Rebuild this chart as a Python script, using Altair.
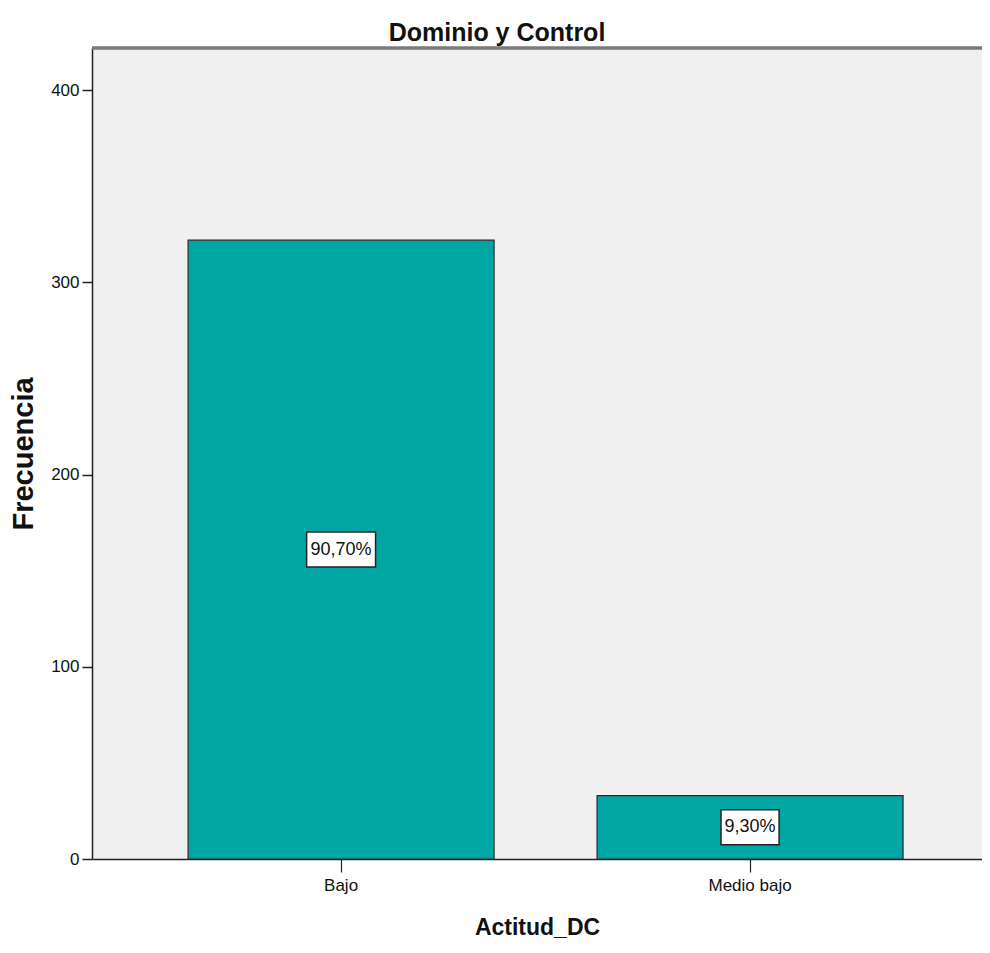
import altair as alt
import pandas as pd

categories = ["Bajo", "Medio bajo"]
counts = [322, 33]
pct_labels = ["90,70%", "9,30%"]
y_ticks = [0, 100, 200, 300, 400]

df = pd.DataFrame({"Actitud_DC": categories, "Frecuencia": counts, "Etiqueta": pct_labels})

FONT = "Liberation Sans, Arial, sans-serif"

W, H = 890, 811

x_enc = alt.X("Actitud_DC:N", sort=categories,
              scale=alt.Scale(paddingInner=0.2518, paddingOuter=0.214, align=0.549),
              axis=alt.Axis(title="Actitud_DC", labelAngle=0, labelFont=FONT, labelFontSize=17,
                            labelColor="#111", tickSize=13, tickColor="#222", domainColor="#222",
                            tickWidth=1.2, domainWidth=1.5, labelPadding=5,
                            titleFont=FONT, titleFontSize=23, titleFontWeight="bold", titleColor="#111",
                            titleBaseline="alphabetic", titleY=75))
y_scale = alt.Scale(domain=[0, 422], nice=False)

bars = alt.Chart(df).mark_bar(color="#00A6A3", stroke="#2a2a2a", strokeWidth=1.2).encode(
    x=x_enc,
    y=alt.Y("Frecuencia:Q", scale=y_scale,
            axis=alt.Axis(values=y_ticks, grid=False, labelFont=FONT, labelFontSize=17,
                          labelColor="#111", tickSize=10, tickColor="#222", domainColor="#222",
                          tickWidth=1.5, domainWidth=1.5, labelPadding=3,
                          title="Frecuencia", titleFont=FONT, titleFontSize=29, titleFontWeight="bold",
                          titleColor="#111", titleBaseline="alphabetic", titleX=-60, titleY=405.5,
                          titleAlign="center")),
)

BOX_WIDE = "M-1.97,-1L1.97,-1L1.97,1L-1.97,1Z"
BOX_NARROW = "M-1.66,-1L1.66,-1L1.66,1L-1.66,1Z"

base = alt.Chart(df).transform_calculate(mid="datum.Frecuencia / 2")

boxes = base.mark_point(filled=True, fill="white", stroke="#222", strokeWidth=1.5, opacity=1,
                        size=1225).encode(
    x=alt.X("Actitud_DC:N", sort=categories),
    y=alt.Y("mid:Q", scale=y_scale),
    shape=alt.condition(alt.datum.Actitud_DC == "Bajo", alt.value(BOX_WIDE), alt.value(BOX_NARROW)),
)

texts = base.mark_text(font=FONT, fontSize=18, color="#111", baseline="middle", align="center").encode(
    x=alt.X("Actitud_DC:N", sort=categories),
    y=alt.Y("mid:Q", scale=y_scale),
    text="Etiqueta:N",
)

top_rule = alt.Chart(df).mark_rule(color="#7a7a7a", strokeWidth=3).encode(
    x=alt.value(0), x2=alt.value(W), y=alt.value(0)
)

chart = alt.layer(bars, boxes, texts, top_rule).properties(
    width=W, height=H,
    background="white",
    title=alt.TitleParams("Dominio y Control", font=FONT, fontSize=25, fontWeight="bold",
                          color="#111", anchor="middle", frame="group", dx=-40, offset=-19,
                          baseline="alphabetic"),
    autosize=alt.AutoSizeParams(type="none"),
    padding={"left": 84, "top": 40, "right": 0, "bottom": 80},
).configure_view(fill="#F0F0F0", stroke=None)

chart.save("out.html", embed_options={"renderer": "svg", "actions": False})
